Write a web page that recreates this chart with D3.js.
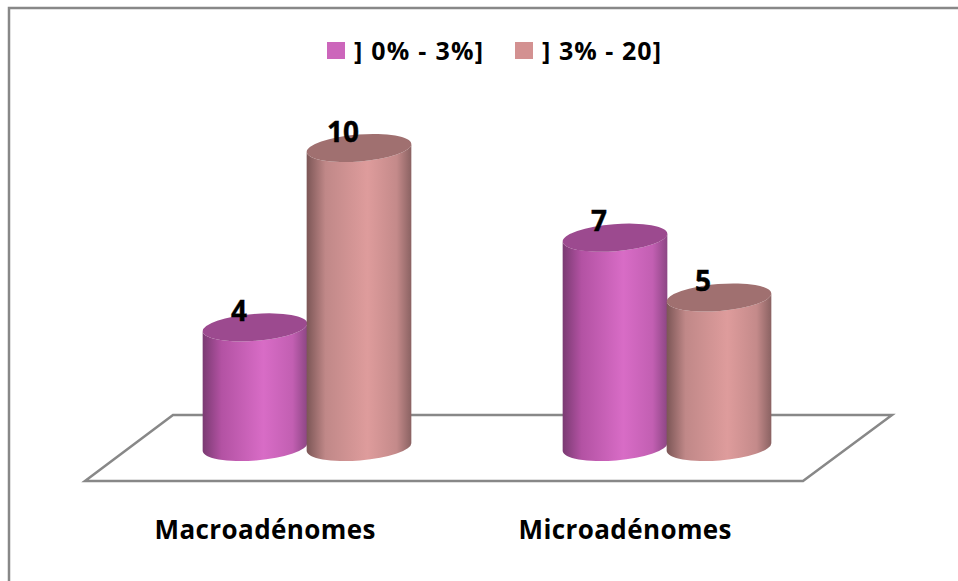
<!DOCTYPE html>
<html>
<head>
<meta charset="utf-8">
<script src="https://cdn.jsdelivr.net/npm/d3@7"></script>
<style>
  html, body { margin: 0; padding: 0; background: #fff; }
  svg { display: block; }
  text { font-family: "Open Sans", "DejaVu Sans", sans-serif; font-weight: bold; fill: #000; }
</style>
</head>
<body>
<svg id="chart" width="958" height="581"></svg>
<script>
// === DATA ===
const categories = ["Macroadénomes", "Microadénomes"];
const series = ["] 0% - 3%]", "] 3% - 20]"];
const values = [
  [4, 10],  // Macroadénomes
  [7, 5]    // Microadénomes
];

// colours per series: legend, top cap, gradient stops
const palette = [
  { legend: "#cc66bb", top: "#9c4a8f",
    stops: ["#7a3a72", "#b352a3", "#d86cc6", "#c25fb2", "#8c4684"] },
  { legend: "#d39191", top: "#a07070",
    stops: ["#7c5656", "#c08888", "#de9c9c", "#c48a8a", "#8a6262"] }
];

const svg = d3.select("#chart");
const W = 958, H = 581;

// frame
svg.append("rect")
  .attr("x", 9).attr("y", 8)
  .attr("width", W + 10).attr("height", H + 10)
  .attr("fill", "none").attr("stroke", "#888").attr("stroke-width", 2.5);

// === SCALES ===
const x0 = d3.scaleBand().domain(categories).range([127, 847]);
const x1 = d3.scaleBand().domain(series).range([-104, 104]);
const y = d3.scaleLinear().domain([0, 10]).range([447, 148]);

const rx = x1.bandwidth() / 2 + 0.5;
const ry = 13.5;
const tilt = -4.5; // degrees, ellipse rotation
const th = tilt * Math.PI / 180;
const dx = rx * Math.cos(th), dy = rx * Math.sin(th);

// === DEFS (gradients) ===
const defs = svg.append("defs");
palette.forEach((p, i) => {
  const g = defs.append("linearGradient")
    .attr("id", "body" + i)
    .attr("x1", "0%").attr("x2", "100%").attr("y1", "0%").attr("y2", "0%");
  const offs = [0, 0.18, 0.58, 0.86, 1];
  p.stops.forEach((c, k) => g.append("stop").attr("offset", offs[k]).attr("stop-color", c));
});

// === FLOOR ===
const floorBack = 415, floorFront = 481;
svg.append("path")
  .attr("d", `M173,${floorBack} L892,${floorBack} L803,${floorFront} L85,${floorFront} Z`)
  .attr("fill", "none").attr("stroke", "#888").attr("stroke-width", 2.5)
  .attr("stroke-linejoin", "miter");

// === CYLINDERS ===
const bars = [];
categories.forEach((c, ci) => {
  series.forEach((s, si) => {
    bars.push({ cat: c, ser: s, si: si, v: values[ci][si],
      cx: x0(c) + x0.bandwidth() / 2 + x1(s) + x1.bandwidth() / 2 });
  });
});

const g = svg.append("g");
bars.forEach(b => {
  const yb = y(0), yt = y(b.v);
  const body = `M${b.cx - dx},${yt - dy} L${b.cx - dx},${yb - dy} ` +
    `A${rx},${ry} ${tilt} 0 0 ${b.cx + dx},${yb + dy} ` +
    `L${b.cx + dx},${yt + dy} ` +
    `A${rx},${ry} ${tilt} 0 1 ${b.cx - dx},${yt - dy} Z`;
  g.append("path").attr("d", body).attr("fill", `url(#body${b.si})`);
  g.append("ellipse")
    .attr("cx", b.cx).attr("cy", yt)
    .attr("rx", rx).attr("ry", ry)
    .attr("transform", `rotate(${tilt},${b.cx},${yt})`)
    .attr("fill", palette[b.si].top);
});

// value labels
bars.forEach(b => {
  svg.append("text")
    .attr("x", b.cx - 16).attr("y", y(b.v) - ry + 7)
    .attr("text-anchor", "middle")
    .attr("font-size", 28)
    .attr("stroke", "#000").attr("stroke-width", 0.4)
    .text(b.v);
});

// category labels (front edge of floor)
const catWidths = [221, 213];
categories.forEach((c, i) => {
  svg.append("text")
    .attr("x", x0(c) + x0.bandwidth() / 2 - 42).attr("y", 539)
    .attr("text-anchor", "middle")
    .attr("font-size", 26)
    .attr("textLength", catWidths[i]).attr("lengthAdjust", "spacing")
    .text(c);
});

// === LEGEND ===
const legendX = [327, 515];
const legendWidths = [129, 119];
series.forEach((s, i) => {
  svg.append("rect")
    .attr("x", legendX[i]).attr("y", 42)
    .attr("width", 18).attr("height", 17)
    .attr("fill", palette[i].legend);
  svg.append("text")
    .attr("x", legendX[i] + 27).attr("y", 60)
    .attr("font-size", 25)
    .attr("textLength", legendWidths[i]).attr("lengthAdjust", "spacing")
    .text(s);
});
</script>
</body>
</html>
